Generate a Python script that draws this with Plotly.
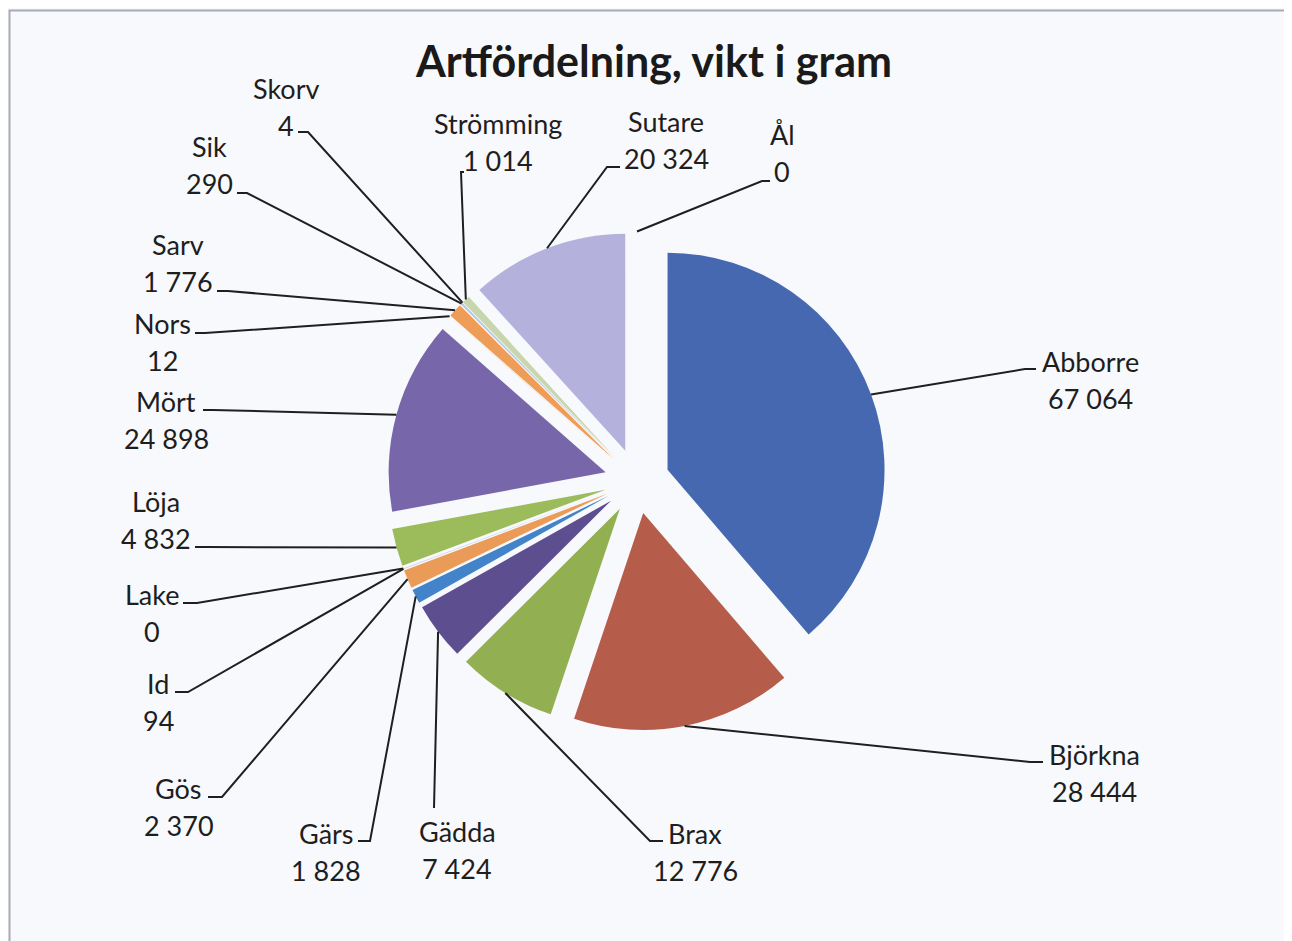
import math
import plotly.graph_objects as go

# ---------------- data ----------------
species = ["Abborre", "Björkna", "Brax", "Gädda", "Gärs", "Gös", "Id", "Lake",
           "Löja", "Mört", "Nors", "Sarv", "Sik", "Skorv", "Strömming", "Sutare", "Ål"]
weights = [67064, 28444, 12776, 7424, 1828, 2370, 94, 0,
           4832, 24898, 12, 1776, 290, 4, 1014, 20324, 0]
title_text = "Artfördelning, vikt i gram"

# ---------------- style / layout ----------------
colors = ["#4568b1", "#b65c4b", "#92b052", "#5d4e8f", "#4283c9", "#eb9b58", "#c9cfe3", "#cccccc",
          "#9cbb5b", "#7866aa", "#f0a860", "#ee9d58", "#b8c8e6", "#ccd9b4", "#c8d6ad", "#b5b1dd", "#aaaaaa"]

PAGE_OFF = 8               # browser body margin
W, H = 1292 - PAGE_OFF, 941 - PAGE_OFF
CX, CY = 637, 481          # pie centre in page pixels
R = 217                    # pie radius in pixels
PULL = 0.15
FONT = "Lato"
FS = 27
LINE_GAP = 37
TXT = "#1e1e1e"
TITLE_FS = 43

# label layout: (centre x of text, baseline of first line) in page pixels
label_pos = {
    "Abborre": (1090, 370), "Björkna": (1094, 763), "Brax": (695, 842), "Gädda": (457, 840),
    "Gärs": (326, 842), "Gös": (179, 797), "Id": (158, 692), "Lake": (152, 603),
    "Löja": (156, 510), "Mört": (166, 410), "Nors": (162, 332), "Sarv": (178, 253),
    "Sik": (209, 155), "Skorv": (286, 97), "Strömming": (498, 132), "Sutare": (666, 130),
    "Ål": (782, 143),
}
# leader layout: elbow point and tick end next to the text
leader_pts = {
    "Abborre": ((1025, 369), (1036, 369)), "Björkna": ((1030, 762), (1043, 762)),
    "Brax": ((650, 841), (663, 841)), "Gädda": ((434, 808), (434, 808)),
    "Gärs": ((370, 841), (358, 841)), "Gös": ((222, 797), (208, 797)),
    "Id": ((188, 692), (175, 692)), "Lake": ((197, 603), (183, 603)),
    "Löja": ((205, 547), (195, 547)), "Mört": ((213, 410), (203, 410)),
    "Nors": ((205, 333), (195, 333)), "Sarv": ((228, 291), (217, 291)),
    "Sik": ((247, 193), (237, 193)), "Skorv": ((308, 132), (298, 132)),
    "Strömming": ((461, 172), (464, 172)), "Sutare": ((607, 167), (620, 167)),
    "Ål": ((762, 181), (770, 181)),
}


def px(x):
    return (x - PAGE_OFF) / W


def py(y):
    return 1 - (y - PAGE_OFF) / H


half = R * (1 + PULL)
fig = go.Figure()
fig.add_trace(go.Pie(
    labels=species, values=weights, sort=False, direction="clockwise", rotation=0,
    marker=dict(colors=colors, line=dict(width=0)),
    pull=[PULL] * len(species), textinfo="none", hoverinfo="label+value",
    showlegend=False,
    domain=dict(x=[px(CX - half), px(CX + half)], y=[py(CY + half), py(CY - half)]),
))

total = sum(weights)
shapes = []
annotations = []
cum = 0
for name, v in zip(species, weights):
    mid = (cum + v / 2) / total * 2 * math.pi
    cum += v
    ax = CX + half * math.sin(mid)
    ay = CY - half * math.cos(mid)
    (ex, ey), (tx, ty) = leader_pts[name]
    shapes.append(dict(type="path", xref="paper", yref="paper",
                       path=f"M {px(ax)},{py(ay)} L {px(ex)},{py(ey)} L {px(tx)},{py(ty)}",
                       line=dict(color="#1f1f1f", width=2)))
    lx, lb = label_pos[name]
    val = f"{v:,}".replace(",", " ")
    for i, t in enumerate([name, val]):
        annotations.append(dict(text=t, x=px(lx), y=py(lb + i * LINE_GAP - 0.3 * FS),
                                xref="paper", yref="paper", xanchor="center", yanchor="middle",
                                showarrow=False, font=dict(family=FONT, size=FS, color=TXT)))

annotations.append(dict(text=f"<b>{title_text}</b>", x=px(653), y=py(73 - 0.3 * TITLE_FS),
                        xref="paper", yref="paper", xanchor="center", yanchor="middle",
                        showarrow=False, font=dict(family=FONT, size=TITLE_FS, color="#1a1a1a")))

# chart frame (top and left edges visible in the scan)
shapes.append(dict(type="rect", xref="paper", yref="paper",
                   x0=px(9.5), y0=py(960), x1=px(1310), y1=py(10.5),
                   line=dict(color="#a8abb3", width=2)))

fig.update_layout(
    width=W, height=H, margin=dict(l=0, r=0, t=0, b=0),
    paper_bgcolor="#f8f9fc", plot_bgcolor="#f8f9fc",
    shapes=shapes, annotations=annotations,
)
fig.write_html("out.html")
